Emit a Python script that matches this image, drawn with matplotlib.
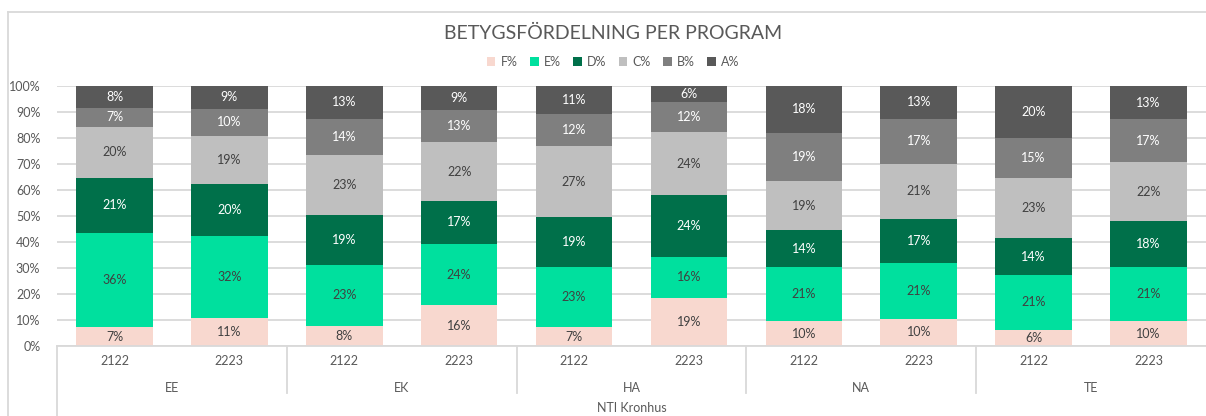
import numpy as np
import matplotlib
matplotlib.use("Agg")
import matplotlib.pyplot as plt
from matplotlib.lines import Line2D
from matplotlib.patches import Patch
import matplotlib.transforms as mtransforms

plt.rcParams['font.family'] = ['Lato', 'DejaVu Sans']

# data (percent of grades per program and school year)
programs = ["EE", "EK", "HA", "NA", "TE"]
years = ["2122", "2223"]
grades = ["F%", "E%", "D%", "C%", "B%", "A%"]
F = [7.3, 10.6, 7.8, 15.6, 7.2, 18.6, 9.6, 10.5, 6.2, 9.6]
E = [36.2, 31.8, 23.4, 23.6, 23.1, 15.7, 20.7, 21.4, 21.1, 20.8]
D = [21.2, 19.8, 19.2, 16.7, 19.3, 23.8, 14.2, 16.9, 14.1, 17.8]
C = [19.6, 18.7, 23.1, 22.4, 27.2, 24.1, 19.0, 21.3, 23.3, 22.4]
B = [7.4, 10.3, 13.9, 12.6, 12.4, 11.6, 18.6, 17.3, 15.4, 16.6]
A = [8.3, 8.8, 12.6, 9.1, 10.8, 6.2, 17.9, 12.6, 19.9, 12.8]
school = "NTI Kronhus"

colors = ["#f8d8cf", "#00e09e", "#00704a", "#bfbfbf", "#7f7f7f", "#595959"]
label_colors = ["#404040", "#404040", "white", "#404040", "white", "white"]
txt = "#595959"
grid = "#d9d9d9"

series = [F, E, D, C, B, A]
x = np.arange(len(F))

fig = plt.figure(figsize=(12.06, 4.16), dpi=100)
ax = fig.add_axes([57/1206, 70/416, 1149/1206, 260/416])

bottom = np.zeros(len(F))
for vals, col, lc, name in zip(series, colors, label_colors, grades):
	v = np.array(vals) / 100.0
	ax.bar(x, v, 0.667, bottom=bottom, color=col, label=name, zorder=2)
	for xi, b, h, raw in zip(x, bottom, v, vals):
		ax.text(xi, b + h/2, "%d%%" % round(raw), ha="center", va="center",
				fontsize=9, color=lc, zorder=3)
	bottom += v

ax.set_xlim(-0.5, len(F) - 0.5)
ax.set_ylim(0, 1)
ax.set_yticks(np.arange(0, 1.01, 0.1))
ax.set_yticklabels(["%d%%" % (t*100) for t in np.arange(0, 1.01, 0.1).round(2)])
ax.yaxis.grid(True, color=grid, lw=1.3, zorder=0)
ax.tick_params(axis="y", length=0, labelsize=9, labelcolor=txt, pad=12)
ax.set_xticks([])
for s in ["top", "right", "left"]:
	ax.spines[s].set_visible(False)
ax.spines["bottom"].set_color(grid)
ax.spines["bottom"].set_linewidth(1.3)

# multi level category axis
tr = mtransforms.blended_transform_factory(ax.transData, ax.transAxes)
px = 1.0 / 260  # one pixel in axes height
for i in range(len(F)):
	ax.text(i, -15*px, years[i % 2], ha="center", va="center", fontsize=9,
			color=txt, transform=tr)
for g, p in enumerate(programs):
	ax.text(2*g + 0.5, -42*px, p, ha="center", va="center", fontsize=9,
			color=txt, transform=tr)
for g in range(1, len(programs)):
	ax.add_line(Line2D([2*g - 0.5, 2*g - 0.5], [0, -47*px], transform=tr,
					   color=grid, lw=1.3, clip_on=False))
ax.add_line(Line2D([-0.5, -0.5], [0, -80*px], transform=tr,
				   color=grid, lw=1.3, clip_on=False))
ax.text(4.5, -62*px, school, ha="center", va="center", fontsize=9,
		color=txt, transform=tr)

# chart frame
fig.add_artist(Line2D([8/1206, 8/1206], [0, 1 - 12/416], color=grid, lw=1.3))
fig.add_artist(Line2D([8/1206, 1], [1 - 12/416, 1 - 12/416], color=grid, lw=1.3))

fig.text(613/1206, 1 - 33/416, "BETYGSFÖRDELNING PER PROGRAM", ha="center",
		 va="center", fontsize=14, color=txt)

handles = [Patch(facecolor=c, label=g) for c, g in zip(colors, grades)]
fig.legend(handles=handles, loc="center", bbox_to_anchor=(613/1206, 1 - 62/416),
		   ncol=6, frameon=False, fontsize=9, labelcolor=txt, handlelength=0.7,
		   handleheight=0.7, handletextpad=0.4, columnspacing=1.0)

fig.savefig("out.png", dpi=100)
